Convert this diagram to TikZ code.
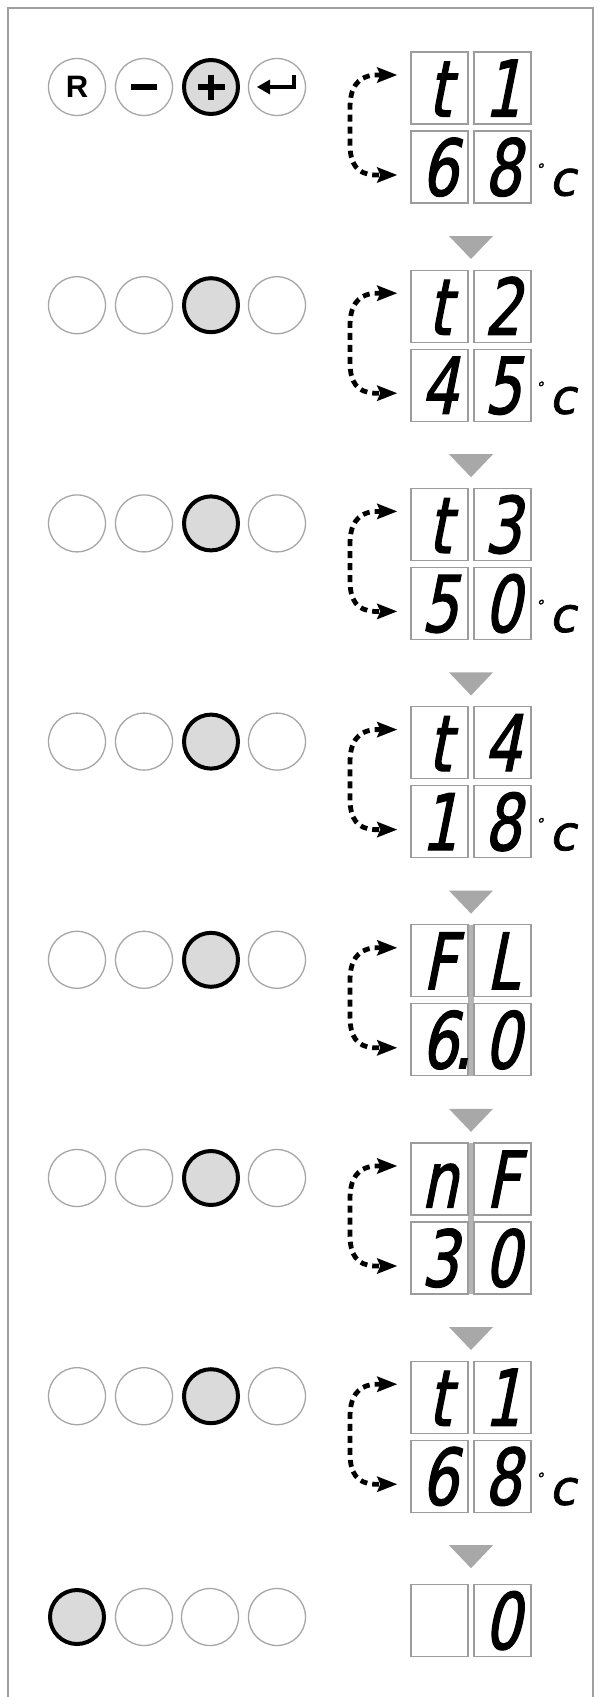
\documentclass[tikz,border=0pt]{standalone}
\usepackage{fontspec}
\usepackage{graphicx}
\usetikzlibrary{arrows.meta,calc}
\newfontfamily\digfont[FakeSlant=0.2,FakeStretch=0.74,FakeBold=1.6]{DejaVu Sans}
\newfontfamily\degfont[FakeSlant=0.2,FakeBold=1.6]{DejaVu Sans}
\newfontfamily\btnfont{Liberation Sans}
\definecolor{framegray}{HTML}{A0A0A0}
\definecolor{circgray}{HTML}{A6A6A6}
\definecolor{pressfill}{HTML}{DADADA}
\definecolor{trigray}{HTML}{A8A8A8}
\definecolor{boxgray}{HTML}{9C9C9C}
\definecolor{gapgray}{HTML}{B4B4B4}
\newcommand{\sixdot}{6\rlap{\kern-0.06em.}}
\newcommand{\degc}{\rlap{\kern15pt\degfont{\fontsize{15}{15}\selectfont\raisebox{21pt}{°}}\kern6pt{\fontsize{48}{48}\selectfont c}}}
\tikzset{
  btn/.style={circle,draw=circgray,line width=1.3pt,fill=white,minimum size=57pt,inner sep=0pt},
  btnon/.style={circle,draw=black,line width=4pt,fill=pressfill,minimum size=54pt,inner sep=0pt},
  digbox/.style={draw=boxgray,line width=1.3pt,minimum width=57pt,minimum height=72pt,inner sep=0pt,
    text height=57pt,text depth=0pt,font=\digfont\fontsize{78}{78}\selectfont},
  bracket/.style={line width=4.8pt,dash pattern=on 7pt off 5pt,
    {Stealth[length=20pt,width=15pt,inset=3pt]}-{Stealth[length=20pt,width=15pt,inset=3pt]}},
  symb/.style={line width=5.5pt},
  tri/.style={fill=trigray}
}
\begin{document}
\begin{tikzpicture}[x=1pt,y=-1pt]
\useasboundingbox (0,0) rectangle (601,1697);
\fill[white] (0,0) rectangle (601,1697);
\draw[framegray,line width=1.8pt] (8,1697) -- (8,8) -- (593,8) -- (593,1697);

% row 1 buttons
\node[btn] (b11) at (77,87) {\scalebox{3.1}{\btnfont\bfseries R}};
\node[btn] (b12) at (144,87) {};
\node[btnon] (b13) at (211,87) {};
\node[btn] (b14) at (277,87) {};
\draw[symb,line width=6pt] ($(b12)+(-13,0)$) -- ($(b12)+(13,0)$);
\draw[symb] ($(b13)+(-13.5,0)$) -- ($(b13)+(13.5,0)$);
\draw[symb] ($(b13)+(0,-12.5)$) -- ($(b13)+(0,12.5)$);
\draw[line width=4.5pt] ($(b14)+(17,-12)$) -- ($(b14)+(17,0)$) -- ($(b14)+(-8,0)$);
\fill ($(b14)+(-20,0)$) -- ($(b14)+(-7,-7.5)$) -- ($(b14)+(-7,7.5)$) -- cycle;

% rows 2-7 buttons
\foreach \k in {2,...,7}{
  \pgfmathsetmacro{\cy}{87+218.2*(\k-1)}
  \node[btn] (b\k1) at (77,\cy) {};
  \node[btn] (b\k2) at (144,\cy) {};
  \node[btnon] (b\k3) at (211,\cy) {};
  \node[btn] (b\k4) at (277,\cy) {};
}
% row 8 buttons
\node[btnon] (b81) at (77,1617) {};
\node[btn] (b82) at (144,1617) {};
\node[btn] (b83) at (210,1617) {};
\node[btn] (b84) at (277,1617) {};

% displays rows 1-7
\foreach \k/\ta/\tb/\ba/\bb/\hasgap in {
  1/t/1/6/{8\degc}/0,
  2/t/2/4/{5\degc}/0,
  3/t/3/5/{0\degc}/0,
  4/t/4/1/{8\degc}/0,
  5/F/L/{\sixdot}/0/1,
  6/n/F/3/0/1,
  7/t/1/6/{8\degc}/0}{
  \pgfmathsetmacro{\c}{88+218.2*(\k-1)}
  \ifnum\hasgap=1
    \fill[gapgray] (468,\c-36) rectangle (474,\c+115);
  \fi
  \node[digbox] (ua\k) at (439.5,\c) {\ta};
  \node[digbox] (ub\k) at (502.5,\c) {\tb};
  \node[digbox] (la\k) at (439.5,\c+79) {\ba};
  \node[digbox] (lb\k) at (502.5,\c+79) {\bb};
  \draw[bracket] ($(ua\k.west)+(-13,-13)$) -- (374,\c-13)
     .. controls (357,\c-11) and (350,\c) .. (350,\c+20) -- (350,\c+56)
     .. controls (350,\c+76) and (357,\c+86) .. (374,\c+87)
     -- ($(la\k.west)+(-13,8)$);
  \fill[tri] (449,\c+148) -- (493,\c+148) -- (471,\c+171) -- cycle;
}
% row 8 display
\node[digbox] (ua8) at (439.5,1620.5) {};
\node[digbox] (ub8) at (502.5,1620.5) {0};
\end{tikzpicture}
\end{document}
